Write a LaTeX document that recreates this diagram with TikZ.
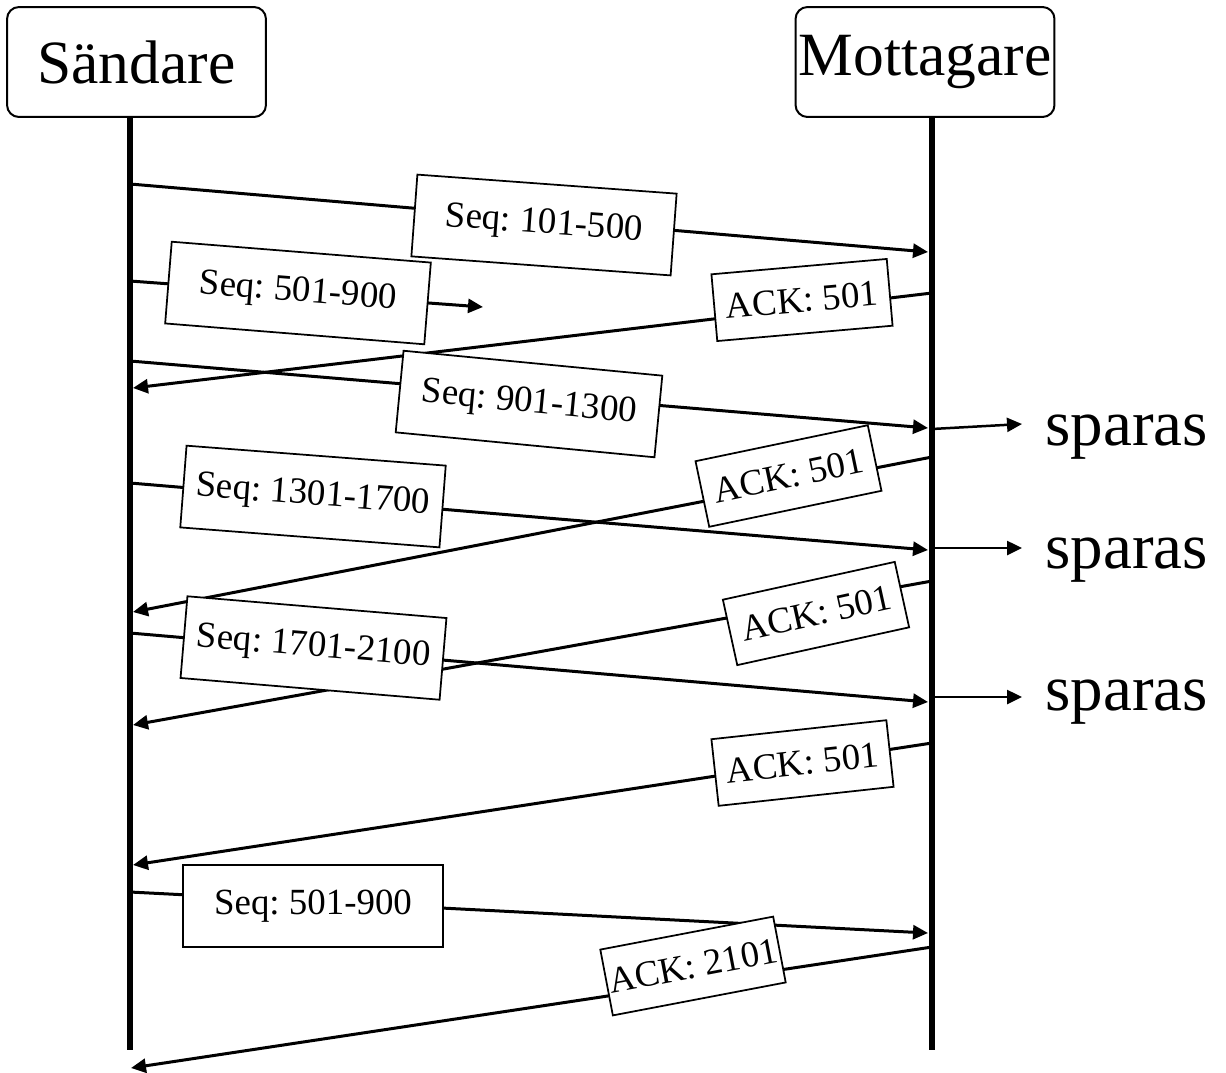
\documentclass[tikz,border=0pt]{standalone}
\usepackage{fontspec}
\setmainfont{Liberation Serif}
\usetikzlibrary{arrows.meta}
\frenchspacing
\begin{document}
\begin{tikzpicture}[x=0.02cm,y=-0.02cm,
  hdr/.style={draw, line width=0.4mm, rounded corners=2.4mm, minimum width=5.18cm, minimum height=2.2cm, inner sep=0pt, font=\fontsize{35}{40}\selectfont},
  seqbox/.style={draw, fill=white, line width=0.35mm, minimum width=5.2cm, minimum height=1.64cm, inner sep=2pt, font=\fontsize{21}{24}\selectfont},
  ackbox/.style={draw, fill=white, line width=0.35mm, minimum width=3.52cm, minimum height=1.34cm, inner sep=1pt, font=\fontsize{21}{24}\selectfont},
  msg/.style={line width=0.6mm, -{Triangle[length=3mm,width=2.8mm]}},
  life/.style={line width=1.2mm},
  note/.style={anchor=base west, inner sep=0pt, font=\fontsize{37}{40}\selectfont}]
\useasboundingbox (0,0) rectangle (1226,1072);

% headers
\node[hdr] (snd) at (136.5,62) {Sändare};
\node[hdr] (rcv) at (925,62) {Mottagare};

% lifelines
\coordinate (sT) at (130,117); \coordinate (sB) at (130,1050);
\coordinate (rT) at (932,117); \coordinate (rB) at (932,1050);
\draw[life] (sT) -- (sB);
\draw[life] (rT) -- (rB);

% message end points
\coordinate (a1) at (130,184);  \coordinate (b1) at (928,252);
\coordinate (a2) at (130,281);  \coordinate (b2) at (483,307);
\coordinate (a3) at (932,293);  \coordinate (b3) at (133,388);
\coordinate (a4) at (130,361);  \coordinate (b4) at (928,428);
\coordinate (a5) at (932,457);  \coordinate (b5) at (133,612);
\coordinate (a6) at (130,483);  \coordinate (b6) at (928,550);
\coordinate (a7) at (932,581);  \coordinate (b7) at (133,725);
\coordinate (a8) at (130,633);  \coordinate (b8) at (928,702);
\coordinate (a9) at (932,743);  \coordinate (b9) at (133,865);
\coordinate (a10) at (130,892); \coordinate (b10) at (928,933);
\coordinate (a11) at (932,947); \coordinate (b11) at (131,1068);

\foreach \i in {1,...,11} { \draw[msg] (a\i) -- (b\i); }

% sparas
\coordinate (p1) at (932,429); \coordinate (q1) at (1022,424);
\coordinate (p2) at (932,548); \coordinate (q2) at (1022,548);
\coordinate (p3) at (932,697); \coordinate (q3) at (1022,697);
\foreach \i in {1,2,3} { \draw[msg, line width=0.5mm] (p\i) -- (q\i); }
\node[note] (sp1) at (1045,445) {sparas};
\node[note] (sp2) at (1045,568) {sparas};
\node[note] (sp3) at (1045,710) {sparas};

% labels
\node[seqbox, rotate=-4.2] (l1) at (544,225) {Seq: 101-500};
\node[seqbox, rotate=-4.6] (l2) at (298,293) {Seq: 501-900};
\node[ackbox, rotate=5] (l3) at (802,300) {ACK: 501};
\node[seqbox, rotate=-5.5] (l4) at (529,404) {Seq: 901-1300};
\node[ackbox, rotate=11.8] (l5) at (788.5,476) {ACK: 501};
\node[seqbox, rotate=-4.4] (l6) at (313,496.5) {Seq: 1301-1700};
\node[ackbox, rotate=12.4] (l7) at (816,613.5) {ACK: 501};
\node[seqbox, rotate=-4.8] (l8) at (313.5,648) {Seq: 1701-2100};
\node[ackbox, rotate=6.2] (l9) at (802.5,763) {ACK: 501};
\node[seqbox] (l10) at (313,906) {Seq: 501-900};
\node[ackbox, rotate=10.8] (l11) at (693,966) {ACK: 2101};
\end{tikzpicture}
\end{document}
